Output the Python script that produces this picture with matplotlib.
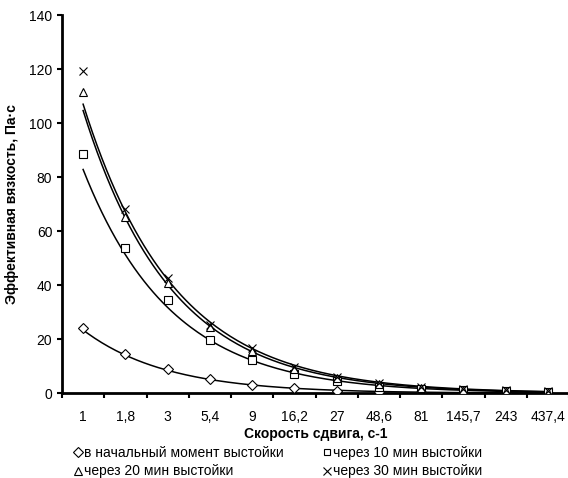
import numpy as np
import matplotlib.pyplot as plt

plt.rcParams['font.family'] = ['Liberation Sans', 'DejaVu Sans']

# скорость сдвига (категории)
shear_rate = ['1', '1,8', '3', '5,4', '9', '16,2', '27', '48,6', '81', '145,7', '243', '437,4']

# эффективная вязкость, Па·с
visc_0 = [24.3, 14.4, 9.0, 5.2, 3.1, 1.8, 1.0, 0.6, 0.4, 0.25, 0.15, 0.1]
visc_10 = [88.5, 53.9, 34.6, 19.7, 12.2, 7.0, 4.5, 2.4, 1.5, 1.05, 0.75, 0.55]
visc_20 = [111.5, 65.4, 41.0, 24.7, 15.7, 9.1, 5.5, 3.5, 2.1, 1.4, 0.9, 0.6]
visc_30 = [119.4, 68.1, 42.6, 25.3, 16.7, 9.9, 6.2, 3.9, 2.3, 1.55, 1.05, 0.75]

series = [
    (visc_0, 'D', 5.5, 'в начальный момент выстойки'),
    (visc_10, 's', 5.5, 'через 10 мин выстойки'),
    (visc_20, '^', 6, 'через 20 мин выстойки'),
    (visc_30, 'x', 6, 'через 30 мин выстойки'),
]

fig = plt.figure(figsize=(5.68, 4.78), dpi=100)
ax = fig.add_axes([62 / 568, 1 - 393.3 / 478, (569 - 62) / 568, (393.3 - 15.3) / 478])

idx = np.arange(1, len(shear_rate) + 1)
xs = np.linspace(1, len(shear_rate), 200)
handles = []
for vals, m, ms, lab in series:
    y = np.array(vals)
    h, = ax.plot(idx - 1, y, linestyle='none', marker=m, markersize=ms,
                 markerfacecolor='white', markeredgecolor='black',
                 markeredgewidth=0.8, label=lab, zorder=3)
    handles.append(h)
    # экспоненциальная линия тренда
    b, lna = np.polyfit(idx, np.log(y), 1)
    ax.plot(xs - 1, np.exp(lna) * np.exp(b * xs), color='black', lw=1.1, zorder=2)

ax.set_xlim(-0.5, len(shear_rate) - 0.5)
ax.set_ylim(0, 140)
ax.set_yticks(np.arange(0, 141, 20))

ax.set_xticks(np.arange(-0.5, len(shear_rate), 1))
ax.set_xticklabels([])
ax.set_xticks(np.arange(len(shear_rate)), minor=True)
ax.set_xticklabels(shear_rate, minor=True)
ax.tick_params(axis='x', which='minor', length=0, pad=12, labelsize=10)
ax.tick_params(axis='x', which='major', length=3.5, width=1.5, direction='out')
ax.tick_params(axis='y', length=3.5, width=1.5, direction='out', labelsize=10, pad=3.5)

for s in ['top', 'right']:
    ax.spines[s].set_visible(False)
for s in ['left', 'bottom']:
    ax.spines[s].set_linewidth(2)

ax.set_xlabel('Скорость сдвига, с-1', fontsize=10, fontweight='bold', labelpad=2)
ax.set_ylabel('Эффективная вязкость, Па·с', fontsize=10, fontweight='bold')
ax.yaxis.set_label_coords((19 - 62) / 507, 0.5)

order = [0, 2, 1, 3]
leg = fig.legend([handles[i] for i in order], [series[i][3] for i in order],
                 loc='upper left', bbox_to_anchor=(74 / 568, 1 - 446 / 478), ncol=2,
                 frameon=False, fontsize=10, handletextpad=0.15, handlelength=0.6,
                 columnspacing=2.75, labelspacing=0.32, borderaxespad=0, borderpad=0,
                 markerscale=0.9)

fig.savefig('out.png', dpi=100)
